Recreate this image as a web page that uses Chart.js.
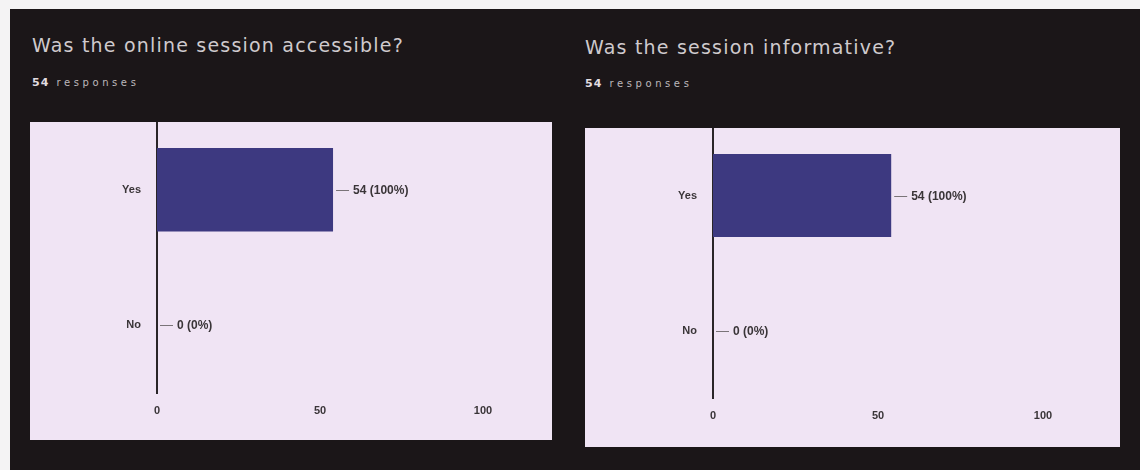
<!DOCTYPE html>
<html>
<head>
<meta charset="utf-8">
<script src="https://cdn.jsdelivr.net/npm/chart.js@4.4.1/dist/chart.umd.min.js"></script>
<style>
  html, body { margin: 0; padding: 0; width: 1140px; height: 470px; background: #f4f3f4; overflow: hidden; }
  #dark { position: absolute; left: 10px; top: 9px; width: 1130px; height: 461px; background: #1b1618; }
  .title { position: absolute; font-family: "DejaVu Sans", sans-serif; font-size: 19px; line-height: 22px; color: #cfcacd; letter-spacing: 1.2px; white-space: nowrap; }
  .resp { position: absolute; font-family: "DejaVu Sans", sans-serif; line-height: 14px; color: #bdb8bb; white-space: nowrap; }
  .resp b { font-size: 11px; color: #e2dde0; letter-spacing: 1px; }
  .resp span { font-size: 10px; letter-spacing: 3.6px; margin-left: 2px; }
  .panel { position: absolute; background: #f0e4f4; }
  .panel canvas { display: block; }
</style>
</head>
<body>
<div id="dark"></div>
<div class="title" style="left:32px; top:34px;">Was the online session accessible?</div>
<div class="resp" style="left:32px; top:74px;"><b>54</b> <span>responses</span></div>
<div class="title" style="left:585px; top:36px;">Was the session informative?</div>
<div class="resp" style="left:585px; top:75px;"><b>54</b> <span>responses</span></div>

<div class="panel" style="left:30px; top:122px; width:522px; height:318px;"><canvas id="c1" width="522" height="318"></canvas></div>
<div class="panel" style="left:585px; top:128px; width:535px; height:319px;"><canvas id="c2" width="535" height="319"></canvas></div>

<script>
const categories = ['Yes', 'No'];
const accessibleCounts = [54, 0];
const informativeCounts = [54, 0];
const totalResponses = 54;
const xTickValues = [0, 50, 100];

const barColor = '#3d3980';
const textColor = '#3a3538';
const fontFamily = '"Liberation Sans", Arial, sans-serif';

const valueLabels = {
  id: 'valueLabels',
  afterDatasetsDraw(chart) {
    const ctx = chart.ctx;
    const meta = chart.getDatasetMeta(0);
    const data = chart.data.datasets[0].data;
    ctx.save();
    ctx.font = 'bold 12px ' + fontFamily;
    ctx.fillStyle = textColor;
    ctx.strokeStyle = '#7a7478';
    ctx.lineWidth = 1;
    ctx.textBaseline = 'middle';
    ctx.textAlign = 'left';
    meta.data.forEach((bar, i) => {
      const x = bar.x;
      const y = Math.round(bar.y) + 0.5;
      ctx.beginPath();
      ctx.moveTo(x + 3, y);
      ctx.lineTo(x + 16, y);
      ctx.stroke();
      const v = data[i];
      const pct = Math.round(v / totalResponses * 100);
      ctx.fillText(v + ' (' + pct + '%)', x + 20, y);
    });
    ctx.restore();
  }
};

function makeChart(id, values, leftW, rightPad, areaH, totalH) {
  return new Chart(document.getElementById(id), {
    type: 'bar',
    data: {
      labels: categories,
      datasets: [{
        data: values,
        backgroundColor: barColor,
        borderWidth: 0,
        categoryPercentage: 0.8,
        barPercentage: 0.77
      }]
    },
    options: {
      indexAxis: 'y',
      responsive: false,
      animation: false,
      layout: { padding: { left: 0, right: rightPad, top: 0, bottom: 0 } },
      plugins: { legend: { display: false }, tooltip: { enabled: false } },
      scales: {
        x: {
          min: 0, max: 100,
          afterBuildTicks(scale) { scale.ticks = xTickValues.map(v => ({ value: v })); },
          afterFit(scale) { scale.height = totalH - areaH; scale.paddingLeft = 0; scale.paddingRight = 0; },
          grid: { display: false, drawTicks: false },
          border: { display: false },
          ticks: { padding: 11, color: textColor, font: { family: fontFamily, size: 11, weight: 'bold' } }
        },
        y: {
          afterFit(scale) { scale.width = leftW; scale.paddingTop = 0; scale.paddingBottom = 0; },
          grid: { display: false, drawTicks: false },
          border: { display: true, color: '#2a2528', width: 2 },
          ticks: { padding: 16, color: textColor, font: { family: fontFamily, size: 11, weight: 'bold' } }
        }
      }
    },
    plugins: [valueLabels]
  });
}

makeChart('c1', accessibleCounts, 127, 69, 271, 318);
makeChart('c2', informativeCounts, 128, 77, 270, 319);
</script>
</body>
</html>
